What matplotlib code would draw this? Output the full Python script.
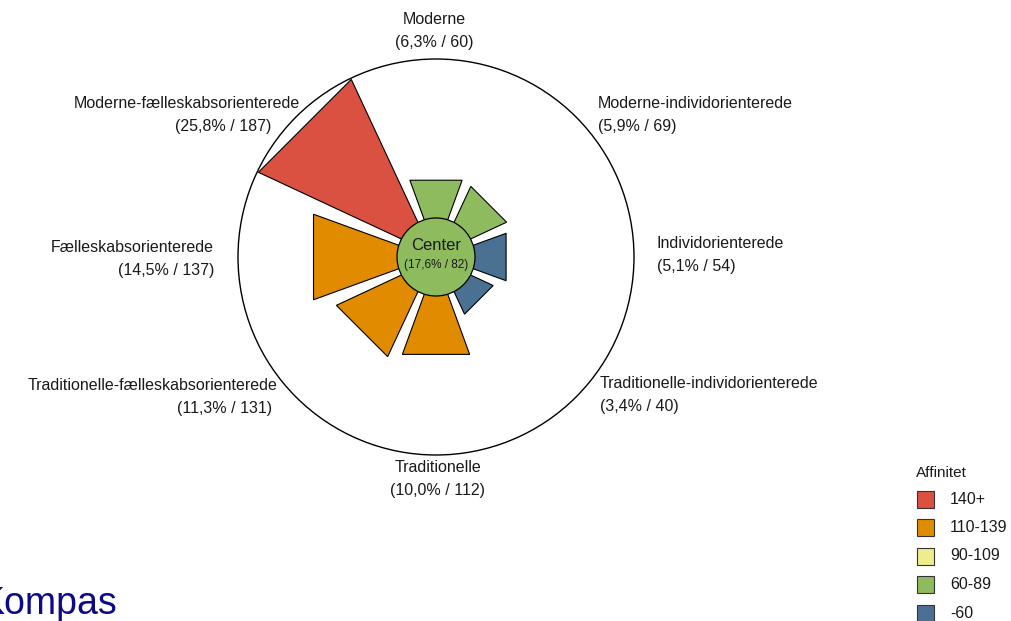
import numpy as np
import matplotlib.pyplot as plt
from matplotlib.patches import Polygon, Circle, Rectangle

plt.rcParams["font.family"] = ["Liberation Sans", "DejaVu Sans"]

# segments clockwise from the top
segments = [
    "Moderne",
    "Moderne-individorienterede",
    "Individorienterede",
    "Traditionelle-individorienterede",
    "Traditionelle",
    "Traditionelle-fælleskabsorienterede",
    "Fælleskabsorienterede",
    "Moderne-fælleskabsorienterede",
]
shares = [6.3, 5.9, 5.1, 3.4, 10.0, 11.3, 14.5, 25.8]
index_values = [60, 69, 54, 40, 112, 131, 137, 187]
center_share = 17.6
center_index = 82

legend_labels = ["140+", "110-139", "90-109", "60-89", "-60"]
legend_colors = ["#DA5142", "#E08B00", "#F0EC8E", "#8DBB5E", "#4A7191"]


def affinity_color(v):
    if v >= 140:
        return legend_colors[0]
    if v >= 110:
        return legend_colors[1]
    if v >= 90:
        return legend_colors[2]
    if v >= 60:
        return legend_colors[3]
    return legend_colors[4]


fig = plt.figure(figsize=(10.11, 6.21), dpi=100)
ax = fig.add_axes([0, 0, 1, 1])
ax.set_xlim(0, 1011)
ax.set_ylim(621, 0)
ax.set_aspect("equal")
ax.axis("off")

cx, cy = 436, 257
r_center = 39
r_outer = 198
share_max = 26.8
scale = (r_outer - r_center) / share_max
half = np.deg2rad(20)
offset = 5


def pt(r, a, ox=cx, oy=cy):
    return ox + r * np.cos(a), oy - r * np.sin(a)


ax.add_patch(Circle((cx, cy), r_outer, facecolor="white", edgecolor="black", lw=1.0, zorder=1))

for i, (share, val) in enumerate(zip(shares, index_values)):
    a = np.deg2rad(90 - 45 * i)
    ox, oy = pt(offset, a)
    r = r_center + scale * share
    p1 = pt(r, a - half, ox, oy)
    p2 = pt(r, a + half, ox, oy)
    ax.add_patch(Polygon([(ox, oy), p1, p2], closed=True, facecolor=affinity_color(val),
                         edgecolor="black", lw=0.8, zorder=2))

ax.add_patch(Circle((cx, cy), r_center, facecolor=affinity_color(center_index),
                    edgecolor="black", lw=0.9, zorder=3))
ax.text(cx, cy - 11, "Center", ha="center", va="center", fontsize=12, color="#1a1a1a", zorder=4)
ax.text(cx, cy + 8, f"({center_share:.1f}% / {center_index})".replace(".", ","),
        ha="center", va="center", fontsize=8.5, color="#1a1a1a", zorder=4)

# label placement: (x, y of first line, ha, x of second line)
label_pos = [
    (434, 20, "center", 434),
    (598, 103, "left", 598),
    (657, 243, "left", 657),
    (600, 384, "left", 600),
    (438, 467, "center", 438),
    (278, 386, "right", 272),
    (214, 247, "right", 214),
    (300, 104, "right", 271),
]
for name, share, val, (x, y, ha, x2) in zip(segments, shares, index_values, label_pos):
    ax.text(x, y, name, ha=ha, va="center", fontsize=11.5, color="#1a1a1a")
    ax.text(x2, y + 23, f"({share:.1f}% / {val})".replace(".", ","),
            ha=ha, va="center", fontsize=11.5, color="#1a1a1a")

# legend
ax.text(916, 473, "Affinitet", ha="left", va="center", fontsize=11, color="#1a1a1a")
for k, (lab, col) in enumerate(zip(legend_labels, legend_colors)):
    y = 499 + 28.5 * k
    ax.add_patch(Rectangle((917, y - 8.5), 17, 17, facecolor=col, edgecolor="#333333", lw=0.8))
    ax.text(950, y, lab, ha="left", va="center", fontsize=11.5, color="#1a1a1a")

ax.text(-20, 614, "Kompas", ha="left", va="baseline", fontsize=27, color="#0B0B8A")

fig.savefig("out.png", dpi=100)
